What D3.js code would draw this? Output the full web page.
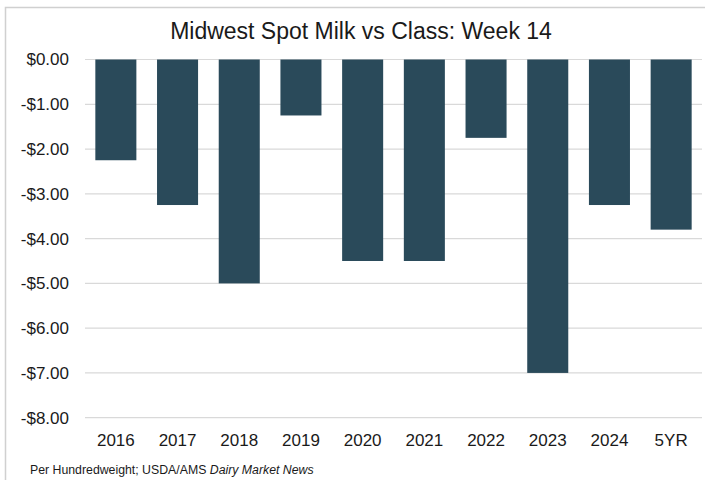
<!DOCTYPE html>
<html><head><meta charset="utf-8">
<script src="https://cdn.jsdelivr.net/npm/d3@7"></script>
<style>body{margin:0;background:#fff}svg{display:block}</style>
</head><body>
<svg id="c" width="705" height="480"></svg>
<script>
const categories = ["2016","2017","2018","2019","2020","2021","2022","2023","2024","5YR"];
const values = [-2.25,-3.25,-5.0,-1.25,-4.5,-4.5,-1.75,-7.0,-3.25,-3.8];
const yTicks = [0,-1,-2,-3,-4,-5,-6,-7,-8];
const title = "Midwest Spot Milk vs Class: Week 14";

const svg = d3.select("#c");
const W = 705, H = 480;
const m = {left: 85, right: 3, top: 59.5, bottom: 62.3};

// outer border
svg.append("path").attr("d", `M5.5,${H} V7.5 H${W}`).attr("fill","none").attr("stroke","#d0d0d0").attr("stroke-width",1.5);

const x = d3.scaleBand().domain(categories).range([m.left, W - m.right]).paddingInner(0.335).paddingOuter(0.1675);
const y = d3.scaleLinear().domain([-8, 0]).range([H - m.bottom, m.top]);

// gridlines
svg.append("g").selectAll("line").data(yTicks).join("line")
  .attr("x1", m.left).attr("x2", W - m.right)
  .attr("y1", d => y(d)).attr("y2", d => y(d))
  .attr("stroke", "#d9d9d9").attr("stroke-width", 1.2);

// y labels
const fmt = d => (d < 0 ? "-$" : "$") + Math.abs(d).toFixed(2);
const yAxis = d3.axisLeft(y).tickValues(yTicks).tickFormat(fmt).tickSize(0).tickPadding(0);
const gy = svg.append("g").attr("transform", `translate(${m.left - 16},0)`).call(yAxis);
gy.select(".domain").remove();
gy.selectAll("text").attr("font-family","'Liberation Sans', Arial, sans-serif").attr("font-size",17).attr("fill","#1a1a1a");

// bars
svg.append("g").selectAll("rect").data(values).join("rect")
  .attr("x", (d,i) => x(categories[i]))
  .attr("width", x.bandwidth())
  .attr("y", d => y(Math.max(0,d)))
  .attr("height", d => Math.abs(y(d) - y(0)))
  .attr("fill", "#2a4a5a");

// x labels
const xAxis = d3.axisBottom(x).tickSize(0).tickPadding(0);
const gx = svg.append("g").attr("transform", `translate(0,${y(-8) + 16})`).call(xAxis);
gx.select(".domain").remove();
gx.selectAll("text").attr("font-family","'Liberation Sans', Arial, sans-serif").attr("font-size",17).attr("fill","#1a1a1a");

// title
svg.append("text").attr("x", 361).attr("y", 38.5).attr("text-anchor","middle")
  .attr("font-family","'Liberation Sans Narrow', 'Arial Narrow', sans-serif").attr("font-size",23).attr("fill","#1a1a1a")
  .text(title);

// footer
const ft = svg.append("text").attr("x", 30).attr("y", 474)
  .attr("font-family","'Liberation Sans Narrow', 'Liberation Sans', Arial, sans-serif").attr("font-size",12.3).attr("fill","#1a1a1a");
ft.append("tspan").text("Per Hundredweight; USDA/AMS ");
ft.append("tspan").attr("font-style","italic").text("Dairy Market News");
</script>
</body></html>
